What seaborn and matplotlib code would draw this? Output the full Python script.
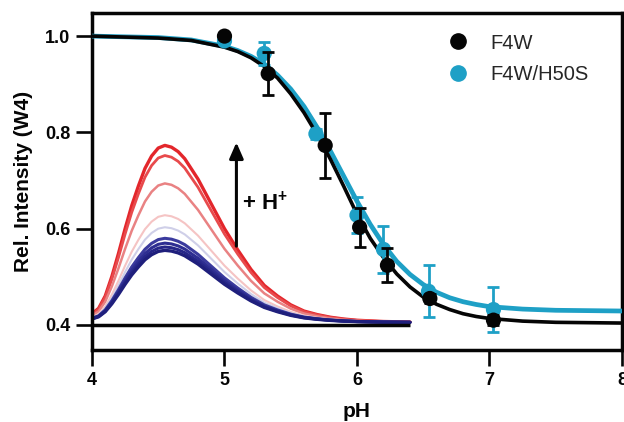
import numpy as np
import pandas as pd
import matplotlib
matplotlib.use("Agg")
import matplotlib.pyplot as plt
from matplotlib.lines import Line2D
import seaborn as sns

# titration points (pH, relative intensity, error)
f4w_ph = [5.00, 5.33, 5.76, 6.02, 6.23, 6.55, 7.03]
f4w_int = [1.000, 0.922, 0.773, 0.603, 0.524, 0.455, 0.410]
f4w_err = [0.0, 0.045, 0.068, 0.041, 0.035, 0.010, 0.010]

h50s_ph = [5.00, 5.30, 5.69, 6.00, 6.20, 6.54, 7.03]
h50s_int = [0.990, 0.964, 0.797, 0.628, 0.557, 0.470, 0.432]
h50s_err = [0.0, 0.023, 0.010, 0.037, 0.049, 0.054, 0.046]

# fitted curves
fit_ph = [4.0, 4.5, 4.75, 5.0, 5.1, 5.2, 5.3, 5.4, 5.5, 5.6, 5.7, 5.8, 5.9,
          6.0, 6.1, 6.2, 6.3, 6.4, 6.5, 6.6, 6.7, 6.8, 6.9, 7.0, 7.25, 7.5,
          8.0]
fit_f4w = [1.000, 0.996, 0.991, 0.977, 0.968, 0.955, 0.937, 0.913, 0.880,
           0.841, 0.795, 0.744, 0.688, 0.630, 0.580, 0.540, 0.506, 0.479,
           0.458, 0.443, 0.432, 0.4234, 0.4176, 0.4135, 0.408, 0.4055, 0.404]
fit_h50s = [1.000, 0.997, 0.992, 0.979, 0.970, 0.958, 0.942, 0.919, 0.890,
            0.854, 0.810, 0.761, 0.709, 0.657, 0.609, 0.567, 0.532, 0.505,
            0.484, 0.468, 0.4565, 0.4483, 0.4425, 0.438, 0.433, 0.4305, 0.429]

# inset emission spectra, drawn in data coordinates
spec_x = [4.0, 4.05, 4.1, 4.15, 4.2, 4.25, 4.3, 4.35, 4.4, 4.45, 4.5, 4.55,
          4.6, 4.65, 4.7, 4.8, 4.9, 5.0, 5.1, 5.2, 5.3, 5.4, 5.5, 5.6, 5.7,
          5.8, 5.9, 6.0, 6.2, 6.4]
spec_shape = [0.05, 0.08, 0.15, 0.26, 0.39, 0.53, 0.66, 0.77, 0.87, 0.94,
              0.985, 1.0, 0.99, 0.965, 0.925, 0.81, 0.67, 0.53, 0.41, 0.30,
              0.21, 0.15, 0.10, 0.065, 0.045, 0.03, 0.02, 0.013, 0.006, 0.003]
spec_base = 0.405
spec_peaks = [0.773, 0.752, 0.694, 0.628, 0.603, 0.580, 0.570, 0.562, 0.555]
spec_colors = ['#e3262b', '#e84a4c', '#e98283', '#f5c4c4', '#cfcfe8',
               '#3b3b9e', '#2e2e92', '#262688', '#1f1f7c']
spec_widths = [2.4, 2.0, 1.8, 1.5, 1.5, 2.2, 2.2, 2.2, 2.4]

black = '#050505'
cyan = '#1ea0c6'

sns.set_theme(style="ticks")
plt.rcParams['font.family'] = ['Liberation Sans', 'DejaVu Sans']
plt.rcParams['mathtext.fontset'] = 'custom'
plt.rcParams['mathtext.bf'] = 'Liberation Sans:bold'
plt.rcParams['mathtext.rm'] = 'Liberation Sans:bold'

fig = plt.figure(figsize=(6.24, 4.22), dpi=100)
ax = fig.add_axes([0.1474, 0.1706, 0.8494, 0.7986])

# spectra
rows = []
for i, pk in enumerate(spec_peaks):
    for x, s in zip(spec_x, spec_shape):
        rows.append({"x": x, "y": spec_base + (pk - spec_base) * s, "k": i})
spec = pd.DataFrame(rows)
for i in range(len(spec_peaks)):
    sns.lineplot(data=spec[spec.k == i], x="x", y="y", color=spec_colors[i],
                 lw=spec_widths[i], ax=ax, sort=False, zorder=2)
ax.plot([4.0, 6.4], [0.4, 0.4], color=black, lw=2.5, zorder=3,
        solid_capstyle='butt')

# arrow and label
ax.annotate("", xy=(5.09, 0.785), xytext=(5.09, 0.558),
            arrowprops=dict(arrowstyle="-|>,head_width=0.35,head_length=0.8",
                            color=black, lw=2.2), zorder=4)
ax.text(5.13, 0.652, r"+ H$^{\mathbf{+}}$", fontsize=16, fontweight='bold',
        va='center', ha='left', color=black)

# fitted curves
sns.lineplot(x=fit_ph, y=fit_h50s, color=cyan, lw=3.4, ax=ax, zorder=5)
sns.lineplot(x=fit_ph, y=fit_f4w, color=black, lw=2.6, ax=ax, zorder=6)

# data with error bars
ax.errorbar(h50s_ph, h50s_int, yerr=h50s_err, fmt='none', ecolor=cyan,
            elinewidth=2.0, capsize=4.5, capthick=2.0, zorder=7)
sns.scatterplot(x=h50s_ph, y=h50s_int, color=cyan, s=120, edgecolor='none',
                ax=ax, zorder=8)
ax.errorbar(f4w_ph, f4w_int, yerr=f4w_err, fmt='none', ecolor=black,
            elinewidth=2.0, capsize=4.5, capthick=2.0, zorder=9)
sns.scatterplot(x=f4w_ph, y=f4w_int, color=black, s=120, edgecolor='none',
                ax=ax, zorder=10)

ax.set_xlim(4, 8)
ax.set_ylim(0.348, 1.048)
ax.set_xticks([4, 5, 6, 7, 8])
ax.set_yticks([0.4, 0.6, 0.8, 1.0])
ax.set_yticklabels(["0.4", "0.6", "0.8", "1.0"])
for sp in ax.spines.values():
    sp.set_linewidth(2.5)
    sp.set_color(black)
ax.tick_params(axis='both', direction='out', length=11.5, width=1.9,
               color=black, labelsize=13, pad=4, labelcolor=black)
for lab in ax.get_xticklabels() + ax.get_yticklabels():
    lab.set_fontweight('bold')
ax.set_xlabel("pH", fontsize=15, fontweight='bold', labelpad=10, color=black)
ax.set_ylabel("Rel. Intensity (W4)", fontsize=15, fontweight='bold',
              labelpad=9, color=black)

handles = [Line2D([], [], marker='o', ls='none', color=black, markersize=11),
           Line2D([], [], marker='o', ls='none', color=cyan, markersize=11)]
ax.legend(handles, ["F4W", "F4W/H50S"], loc='upper left',
          bbox_to_anchor=(0.63, 0.975), frameon=False, fontsize=14.5,
          handletextpad=0.6, labelspacing=0.6, borderaxespad=0.2)

fig.savefig("out.png", dpi=100)
